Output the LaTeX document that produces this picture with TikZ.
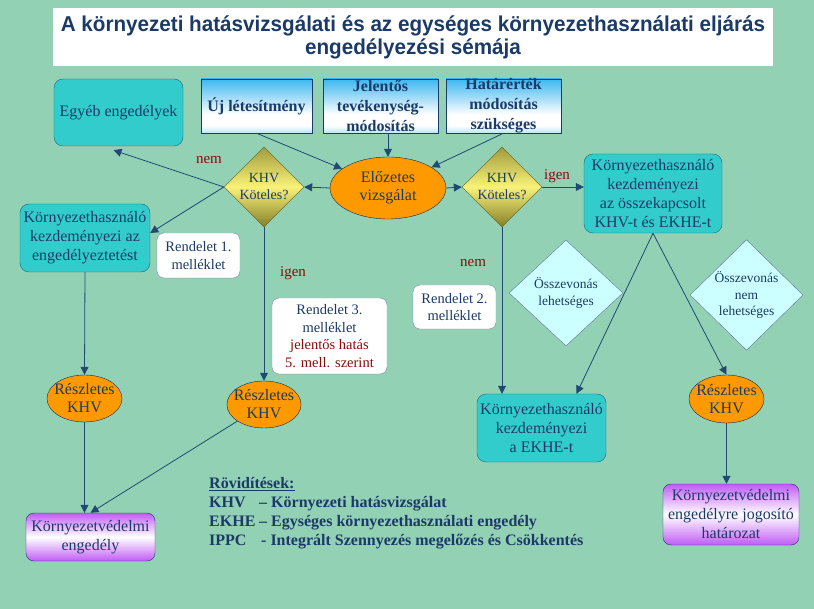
\documentclass[tikz,border=0pt]{standalone}
\usepackage{fontspec}
\setmainfont{Liberation Serif}
\newfontfamily\titlefont[FakeStretch=0.96]{Liberation Sans}
\usetikzlibrary{arrows.meta,shapes.geometric}

\definecolor{bg}{HTML}{93D1B5}
\definecolor{navy}{HTML}{1B3A68}
\definecolor{linec}{HTML}{1F4A73}
\definecolor{tealf}{HTML}{33CCCC}
\definecolor{tealb}{HTML}{1F6478}
\definecolor{orangef}{HTML}{FF9900}
\definecolor{darkred}{HTML}{8B0A0A}
\definecolor{skyf}{HTML}{3DB7F0}
\definecolor{olivef}{HTML}{857F28}
\definecolor{yellowf}{HTML}{F8F27A}
\definecolor{purplef}{HTML}{C05CF5}
\definecolor{cyanf}{HTML}{CCFFFF}

\pgfdeclareverticalshading{srcshade}{100bp}{color(0bp)=(skyf!35); color(25bp)=(skyf!35); color(32bp)=(white); color(42bp)=(white); color(75bp)=(skyf); color(100bp)=(skyf)}

\begin{document}
\begin{tikzpicture}[x=1pt, y=-1pt,
  every node/.style={text=navy, font=\fontsize{16}{19}\selectfont, align=center},
  tealbox/.style={draw=tealb, fill=tealf, rounded corners=9pt, inner sep=1pt},
  srcbox/.style={draw=navy, shade, shading=srcshade, inner xsep=1pt, inner ysep=-2pt,
    font=\fontsize{16}{20}\selectfont\bfseries},
  decide/.style={diamond, draw=olivef!70!black, top color=olivef!75!yellowf, bottom color=olivef,
    middle color=yellowf, inner sep=0pt, minimum width=80pt, minimum height=80pt,
    font=\fontsize{14}{17}\selectfont},
  oval/.style={ellipse, draw=navy!70!black, fill=orangef, inner ysep=0pt, font=\fontsize{16}{18}\selectfont},
  note/.style={draw=navy!60, fill=white, rounded corners=7pt, inner sep=1pt, font=\fontsize{14.5}{17.5}\selectfont},
  permit/.style={draw=navy, rounded corners=8pt, top color=purplef, bottom color=purplef, middle color=white},
  merge/.style={diamond, draw=navy!70, fill=cyanf, inner sep=0pt, font=\fontsize{13.5}{16.5}\selectfont},
  flow/.style={draw=linec, line width=0.8pt, -{Triangle[length=8pt,width=8pt]}},
  lab/.style={text=darkred, font=\fontsize{15}{18}\selectfont}]

\path[use as bounding box, fill=bg] (0,0) rectangle (814,609);

\node[fill=white, minimum width=720pt, minimum height=58pt, inner sep=0pt,
  font=\titlefont\fontsize{21.5}{22.5}\selectfont\bfseries] (title) at (413,37.5)
  {A környezeti hatásvizsgálati és az egységes környezethasználati eljárás\\engedélyezési sémája};

% felső sor
\node[tealbox, minimum width=129pt, minimum height=67pt] (egyeb) at (118.5,112.5) {Egyéb engedélyek};
\node[srcbox, minimum width=111pt, minimum height=54pt] (uj) at (256.5,106) {Új létesítmény};
\node[srcbox, minimum width=115pt, minimum height=54pt] (jelentos) at (380.5,106) {Jelentős\\tevékenység-\\módosítás};
\node[srcbox, minimum width=115pt, minimum height=54pt] (hatarertek) at (503.5,106) {Határérték\\módosítás\\szükséges};

% döntések
\node[decide] (khvbal) at (264,187) {KHV\\Köteles?};
\node[oval, minimum width=116pt, minimum height=62pt] (elozetes) at (388,188) {Előzetes\\vizsgálat};
\node[decide] (khvjobb) at (502,187) {KHV\\Köteles?};
\node[tealbox, minimum width=138pt, minimum height=79pt] (kapcsolt) at (653,193.5)
  {Környezethasználó\\kezdeményezi\\az összekapcsolt\\KHV-t és EKHE-t};

\node[lab] (nembal) at (209,160) {nem};
\node[lab] (igenbal) at (293,273) {igen};
\node[lab] (nemjobb) at (473,263) {nem};
\node[lab] (igenjobb) at (557,176) {igen};

% középső rész
\node[tealbox, minimum width=130pt, minimum height=68pt] (kezdbal) at (85,238)
  {Környezethasználó\\kezdeményezi az\\engedélyeztetést};
\node[note, minimum width=83pt, minimum height=45pt] (rend1) at (198.5,255.5) {Rendelet 1.\\melléklet};
\node[note, minimum width=115pt, minimum height=76pt] (rend3) at (329.5,336)
  {Rendelet 3.\\melléklet\\\textcolor{darkred}{jelentős hatás}\\\textcolor{darkred}{5. mell. szerint}};
\node[note, minimum width=83pt, minimum height=44pt] (rend2) at (454.5,307) {Rendelet 2.\\melléklet};
\node[merge, minimum width=114pt, minimum height=106pt] (lehet) at (566,293) {Összevonás\\lehetséges};
\node[merge, minimum width=113pt, minimum height=106pt] (nemlehet) at (746.5,295) {Összevonás\\nem\\lehetséges};

% részletes KHV
\node[oval, inner xsep=-4pt, minimum width=75pt, minimum height=47pt] (reszlbal) at (84.5,398.5) {Részletes\\KHV};
\node[oval, inner xsep=-4pt, minimum width=74pt, minimum height=47pt] (reszlkoz) at (264,404.5) {Részletes\\KHV};
\node[oval, inner xsep=-4pt, minimum width=75pt, minimum height=48pt] (reszljobb) at (726.5,399) {Részletes\\KHV};
\node[tealbox, minimum width=129pt, minimum height=68pt] (ekhe) at (541.5,428)
  {Környezethasználó\\kezdeményezi\\a EKHE-t};

% engedélyek
\node[permit, minimum width=129pt, minimum height=48pt] (kvengedely) at (90.5,537) {Környezetvédelmi\\engedély};
\node[permit, minimum width=136pt, minimum height=61pt] (hatarozat) at (731,514.5)
  {Környezetvédelmi\\engedélyre jogosító\\határozat};

\node[anchor=north west, align=left, inner sep=0pt, font=\fontsize{16}{19}\selectfont\bfseries] (roviditesek) at (209,477)
  {\underline{Rövidítések:}\\
   \makebox[50pt][l]{KHV}– Környezeti hatásvizsgálat\\
   \makebox[50pt][l]{EKHE\,}– Egységes környezethasználati engedély\\
   \makebox[52pt][l]{IPPC}- Integrált Szennyezés megelőzés és Csökkentés};

\draw[flow] (uj.south) -- (elozetes);
\draw[flow] (jelentos.south -| elozetes.north) -- (elozetes.north);
\draw[flow] (hatarertek.south) -- (elozetes);
\draw[flow] (elozetes.west) -- (khvbal.east);
\draw[flow] (elozetes.east) -- (khvjobb.west);
\draw[flow] (khvbal.west) -- ([xshift=-5pt, yshift=-4pt]egyeb.south);
\draw[flow] (khvbal.west) -- ([yshift=5pt]kezdbal.east);
\draw[flow] (khvbal.south) -- (reszlkoz.north);
\draw[flow] (kezdbal.south) -- (reszlbal.north);
\draw[flow] (reszlbal.south) -- (reszlbal.south |- kvengedely.north);
\draw[flow] (reszlkoz) -- (kvengedely.north);
\draw[flow] (khvjobb.east) -- (khvjobb.east -| kapcsolt.west);
\draw[flow] (khvjobb.south) -- (khvjobb.south |- ekhe.north);
\draw[flow] (kapcsolt.south) -- ([xshift=35pt]ekhe.north);
\draw[flow] (kapcsolt.south) -- (reszljobb.north);
\draw[flow] (reszljobb.south) -- (reszljobb.south |- hatarozat.north);
\end{tikzpicture}
\end{document}
